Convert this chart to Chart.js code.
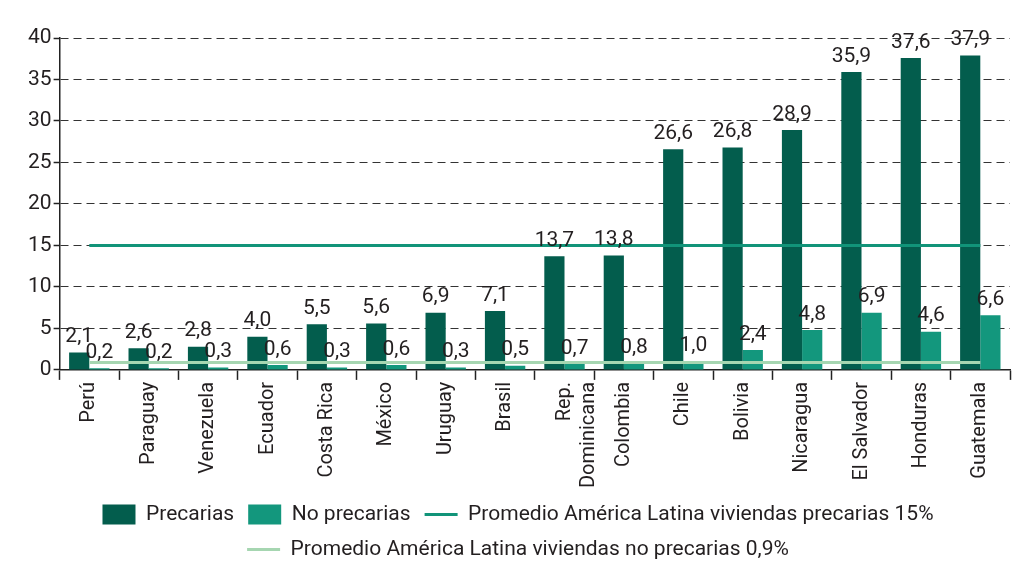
<!DOCTYPE html>
<html>
<head>
<meta charset="utf-8">
<script src="https://cdn.jsdelivr.net/npm/chart.js@4/dist/chart.umd.min.js"></script>
<style>
  html, body { margin: 0; padding: 0; background: #fff; }
  #caja { width: 1024px; height: 564px; }
</style>
</head>
<body>
<div id="caja"><canvas id="grafica"></canvas></div>
<script>
// Datos
const paises = ['Perú', 'Paraguay', 'Venezuela', 'Ecuador', 'Costa Rica', 'México', 'Uruguay', 'Brasil',
  ['Rep.', 'Dominicana'], 'Colombia', 'Chile', 'Bolivia', 'Nicaragua', 'El Salvador', 'Honduras', 'Guatemala'];
const precarias = [2.1, 2.6, 2.8, 4.0, 5.5, 5.6, 6.9, 7.1, 13.7, 13.8, 26.6, 26.8, 28.9, 35.9, 37.6, 37.9];
const noPrecarias = [0.2, 0.2, 0.3, 0.6, 0.3, 0.6, 0.3, 0.5, 0.7, 0.8, 1.0, 2.4, 4.8, 6.9, 4.6, 6.6];
const promedioPrecarias = 15;
const promedioNoPrecarias = 0.9;
const ticksY = [0, 5, 10, 15, 20, 25, 30, 35, 40];

const fuente = 'Roboto, "Liberation Sans", sans-serif';
const colorTexto = '#231f20';

// Etiquetas de valor encima de las barras
const etiquetasValor = {
  id: 'etiquetasValor',
  afterDatasetsDraw(chart) {
    const ctx = chart.ctx;
    ctx.save();
    ctx.font = '21px ' + fuente;
    ctx.fillStyle = colorTexto;
    ctx.textAlign = 'center';
    ctx.textBaseline = 'bottom';
    chart.data.datasets.forEach((ds, i) => {
      if (ds.type !== 'bar') return;
      chart.getDatasetMeta(i).data.forEach((barra, j) => {
        const texto = ds.data[j].toFixed(1).replace('.', ',');
        ctx.fillText(texto, barra.x, barra.y - 5);
      });
    });
    ctx.restore();
  }
};

const primero = paises[0];
const ultimo = paises[paises.length - 1];

new Chart(document.getElementById('grafica'), {
  data: {
    labels: paises,
    datasets: [
      {
        type: 'bar', label: 'Precarias', data: precarias,
        backgroundColor: '#035d4d', borderWidth: 0, order: 2,
        pointStyle: 'rect'
      },
      {
        type: 'bar', label: 'No precarias', data: noPrecarias,
        backgroundColor: '#13977d', borderWidth: 0, order: 2,
        pointStyle: 'rect'
      },
      {
        type: 'line', label: 'Promedio América Latina viviendas precarias 15%',
        data: [{ x: primero, y: promedioPrecarias }, { x: ultimo, y: promedioPrecarias }],
        borderColor: '#119479', backgroundColor: '#119479', borderWidth: 3,
        pointRadius: 0, pointStyle: 'line', order: 1
      },
      {
        type: 'line', label: 'Promedio América Latina viviendas no precarias 0,9%',
        data: [{ x: primero, y: promedioNoPrecarias }, { x: ultimo, y: promedioNoPrecarias }],
        borderColor: '#a6d6b1', backgroundColor: '#a6d6b1', borderWidth: 3,
        pointRadius: 0, pointStyle: 'line', order: 1
      }
    ]
  },
  options: {
    responsive: true,
    maintainAspectRatio: false,
    animation: false,
    categoryPercentage: 0.68,
    barPercentage: 1,
    layout: { padding: { top: 38, left: 26, right: 14, bottom: -6 } },
    scales: {
      x: {
        grid: { display: true, drawOnChartArea: false, drawTicks: true, tickLength: 10, offset: true, tickColor: '#222', tickWidth: 1.5 },
        border: { color: '#222', width: 1.5 },
        ticks: {
          color: colorTexto, font: { family: fuente, size: 20 },
          maxRotation: 90, minRotation: 90, autoSkip: false, padding: 2
        }
      },
      y: {
        min: 0, max: 40,
        afterBuildTicks(eje) { eje.ticks = ticksY.map(v => ({ value: v })); },
        grid: { color: '#333', lineWidth: 1, tickLength: 6, tickColor: '#222', tickBorderDash: [], tickWidth: 1.5 },
        border: { color: '#222', width: 1.5, dash: [8, 5] },
        ticks: { color: colorTexto, font: { family: fuente, size: 21 }, padding: 2 }
      }
    },
    plugins: {
      legend: {
        position: 'bottom',
        labels: {
          usePointStyle: true, pointStyleWidth: 33, boxHeight: 20,
          color: colorTexto, font: { family: fuente, size: 21 }, padding: 14,
          sort: (a, b) => a.datasetIndex - b.datasetIndex
        }
      },
      tooltip: { enabled: false }
    }
  },
  plugins: [etiquetasValor]
});
</script>
</body>
</html>
